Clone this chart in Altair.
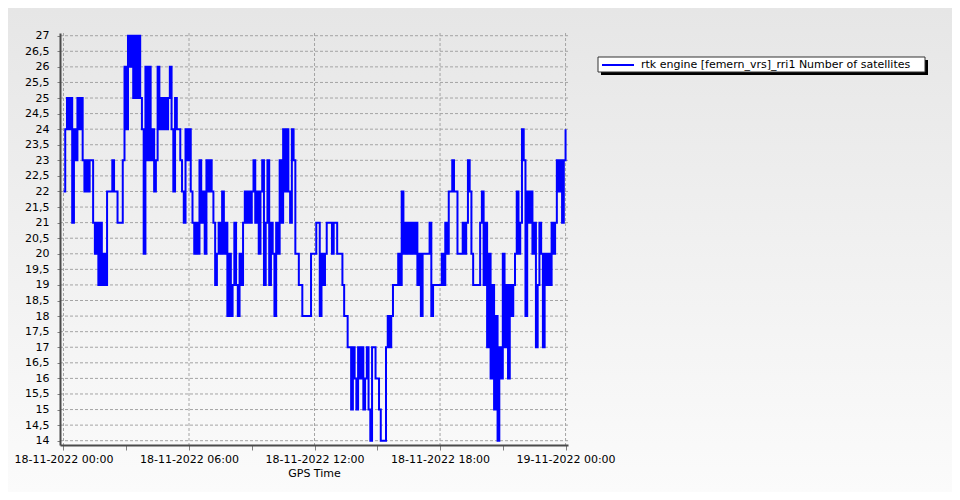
import altair as alt
import pandas as pd

series_name = "rtk engine [femern_vrs]_rri1 Number of satellites"
x_title = "GPS Time"
step_minutes = 5  # one reading every 5 minutes from 18-11-2022 00:00

# Number of satellites, one row per hour
sats = [
    22, 24, 25, 24, 25, 21, 24, 23, 25, 24, 25, 23,
    22, 23, 22, 23, 23, 21, 20, 21, 19, 21, 19, 20,
    19, 22, 22, 22, 23, 22, 22, 21, 21, 21, 23, 26,
    24, 27, 26, 27, 25, 27, 25, 27, 25, 24, 20, 26,
    23, 26, 23, 24, 22, 23, 26, 24, 25, 24, 25, 24,
    25, 26, 24, 22, 25, 24, 24, 23, 22, 21, 24, 23,
    24, 22, 21, 20, 21, 20, 23, 21, 22, 20, 23, 22,
    23, 22, 21, 19, 20, 21, 20, 22, 20, 21, 18, 20,
    18, 19, 21, 19, 18, 20, 19, 21, 22, 21, 22, 21,
    22, 23, 21, 22, 20, 22, 23, 19, 21, 23, 19, 21,
    20, 18, 21, 20, 23, 21, 24, 22, 24, 22, 21, 24,
    23, 20, 20, 19, 19, 18, 18, 18, 18, 18, 20, 20,
    20, 21, 21, 18, 20, 19, 20, 21, 21, 21, 20, 21,
    21, 20, 20, 20, 19, 18, 18, 17, 17, 15, 17, 16,
    15, 17, 16, 17, 15, 16, 17, 15, 14, 17, 17, 16,
    16, 15, 14, 14, 14, 17, 18, 17, 18, 19, 19, 19,
    20, 19, 22, 20, 21, 20, 21, 20, 21, 20, 21, 19,
    20, 18, 20, 20, 20, 20, 21, 18, 19, 19, 19, 19,
    19, 20, 19, 21, 20, 22, 22, 23, 22, 22, 20, 20,
    20, 21, 20, 21, 23, 22, 20, 19, 19, 19, 19, 21,
    22, 19, 21, 17, 20, 16, 19, 15, 18, 14, 17, 16,
    20, 17, 19, 16, 19, 18, 19, 20, 22, 20, 21, 24,
    23, 18, 22, 21, 22, 20, 21, 17, 19, 21, 20, 17,
    20, 19, 20, 19, 21, 20, 21, 23, 22, 23, 21, 23,
    24,
]

y_ticks = [14, 14.5, 15, 15.5, 16, 16.5, 17, 17.5, 18, 18.5, 19, 19.5, 20, 20.5,
           21, 21.5, 22, 22.5, 23, 23.5, 24, 24.5, 25, 25.5, 26, 26.5, 27]
x_tick_hours = [0, 3, 6, 9, 12, 15, 18, 21, 24]
x_grid_hours = [0, 6, 12, 18, 24]


def ts(minutes):
    d = 18 + minutes // 1440
    m = minutes % 1440
    return f"2022-11-{d:02d}T{m // 60:02d}:{m % 60:02d}:00Z"


def dt(h, minutes=0, day=18):
    return alt.DateTime(year=2022, month=11, date=day + h // 24, hours=h % 24,
                        minutes=minutes, utc=True)


df = pd.DataFrame({"t": [ts(i * step_minutes) for i in range(len(sats))], "sats": sats})
grid_x_df = pd.DataFrame({"t": [ts(h * 60) for h in x_grid_hours]})
grid_y_df = pd.DataFrame({"sats": y_ticks})

W, H = 508, 412
PAD = {"left": 52, "top": 25, "right": 384, "bottom": 47}
FONT = "DejaVu Sans"

xscale = alt.Scale(type="utc", domain=[dt(23, 50, day=17), dt(24, 7)])
yscale = alt.Scale(domain=[13.862, 27.087], nice=False, zero=False)

x_axis = alt.Axis(
    values=[dt(h) for h in x_tick_hours],
    labelExpr="utchours(datum.value) % 6 == 0 ? utcFormat(datum.value, '%d-%m-%Y %H:%M') : ''",
    title=x_title, grid=False, tickSize=5, tickColor="#808080",
    domainColor="#4a4a4a", domainWidth=2,
    labelFont=FONT, labelFontSize=11, labelColor="black", labelPadding=3,
    labelOverlap=False, labelFlush=False,
    titleFont=FONT, titleFontSize=11, titleFontWeight="normal", titleColor="black",
    titlePadding=3, zindex=1,
)
y_axis = alt.Axis(
    values=y_ticks,
    labelExpr="replace(toString(datum.value), '.', ',')",
    title="", grid=False, tickSize=3, tickColor="#808080",
    domainColor="#4a4a4a", domainWidth=2,
    labelFont=FONT, labelFontSize=11, labelColor="black", labelPadding=8,
    labelOverlap=False, labelFlush=False, zindex=1,
)

bg = alt.Chart(alt.Data(values=[{}])).mark_rect(
    fill=alt.LinearGradient(
        gradient="linear",
        stops=[alt.GradientStop(color="#e6e6e6", offset=0),
               alt.GradientStop(color="#fbfbfb", offset=1)],
        x1=0, x2=0, y1=0, y2=1,
    )
).encode(x=alt.value(-PAD["left"]), x2=alt.value(W + PAD["right"]),
         y=alt.value(-PAD["top"]), y2=alt.value(H + PAD["bottom"]))

ygrid = alt.Chart(grid_y_df).mark_rule(color="#a4a4a4", strokeDash=[3, 2], strokeWidth=1).encode(
    y=alt.Y("sats:Q", scale=yscale, axis=y_axis),
    x=alt.value(0), x2=alt.value(W),
)

xgrid = alt.Chart(grid_x_df).mark_rule(color="#a4a4a4", strokeDash=[3, 2], strokeWidth=1).encode(
    x=alt.X("t:T", scale=xscale, axis=x_axis),
    y=alt.value(0), y2=alt.value(H),
)

line = alt.Chart(df).mark_line(color="#0000ff", strokeWidth=2, interpolate="step-after").encode(
    x=alt.X("t:T", scale=xscale, axis=x_axis),
    y=alt.Y("sats:Q", scale=yscale, axis=y_axis),
)

# legend box (drawn as a framed box with a drop shadow)
LX0, LX1, LY0, LY1 = 538, 865, 24, 39
leg_shadow = alt.Chart(alt.Data(values=[{}])).mark_rect(color="black").encode(
    x=alt.value(LX0 + 3), x2=alt.value(LX1 + 3), y=alt.value(LY0 + 3), y2=alt.value(LY1 + 3))
leg_box = alt.Chart(alt.Data(values=[{}])).mark_rect(fill="white", stroke="#333333", strokeWidth=1).encode(
    x=alt.value(LX0), x2=alt.value(LX1), y=alt.value(LY0), y2=alt.value(LY1))
leg_sym = alt.Chart(alt.Data(values=[{}])).mark_rule(color="#0000ff", strokeWidth=2).encode(
    x=alt.value(LX0 + 4), x2=alt.value(LX0 + 36), y=alt.value(32))
leg_text = alt.Chart(alt.Data(values=[{"name": series_name}])).mark_text(
    align="left", baseline="middle", font=FONT, fontSize=11, color="black"
).encode(x=alt.value(LX0 + 43), y=alt.value(32), text="name:N")

chart = alt.layer(bg, ygrid, xgrid, line, leg_shadow, leg_box, leg_sym, leg_text).properties(
    width=W, height=H, padding=PAD, autosize="none", background="#eeeeee",
).configure_view(stroke="transparent")

chart.save("out.html", embed_options={"renderer": "svg", "actions": False})
